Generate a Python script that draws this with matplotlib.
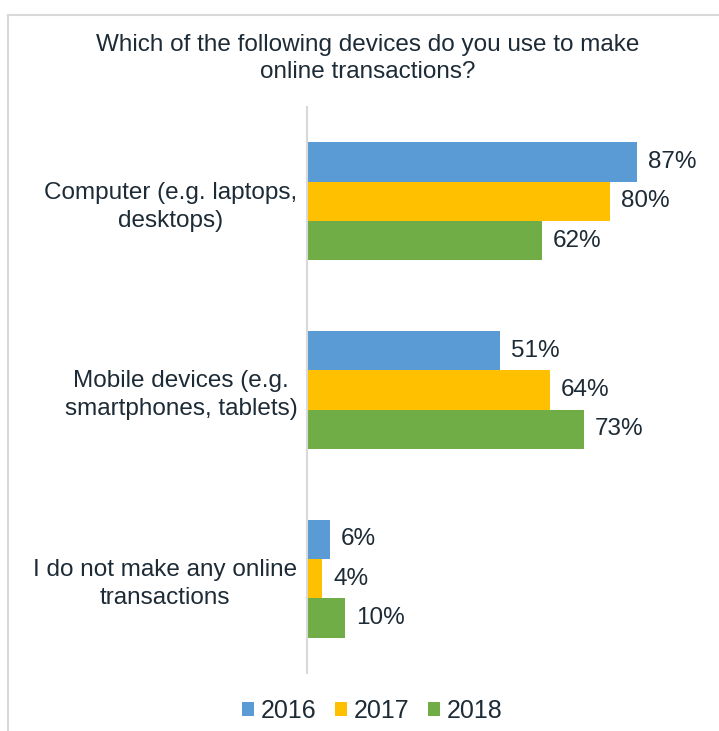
import numpy as np
import matplotlib.pyplot as plt
from matplotlib.lines import Line2D

plt.rcParams['font.family'] = ['Liberation Sans', 'DejaVu Sans']

categories = ['Computer (e.g. laptops,\ndesktops)',
              'Mobile devices (e.g.\nsmartphones, tablets)',
              'I do not make any online\ntransactions']
years = ['2016', '2017', '2018']
vals_2016 = [87, 51, 6]
vals_2017 = [80, 64, 4]
vals_2018 = [62, 73, 10]
colors = ['#5b9bd5', '#ffc000', '#70ad47']
txt = '#1d2b36'
fs = 17.5

fig = plt.figure(figsize=(7.19, 7.31), dpi=100)
ax = fig.add_axes([307/719, 1 - 673/731, 379/719, 566/731])

h = 0.208
y = np.arange(len(categories))
series = [vals_2016, vals_2017, vals_2018]
for i, (vals, c, yr) in enumerate(zip(series, colors, years)):
    pos = y + (i - 1) * h
    bars = ax.barh(pos, vals, height=h, color=c, label=yr)
    for b, v in zip(bars, vals):
        ax.annotate(f'{v}%', (v, b.get_y() + h / 2), xytext=(8, 0),
                    textcoords='offset points', ha='left', va='center',
                    fontsize=fs, color=txt)

ax.set_xlim(0, 100)
ax.set_ylim(2.5, -0.5)
ax.set_xticks([])
ax.set_yticks(y)
ax.set_yticklabels(categories, fontsize=fs, color=txt, linespacing=1.35)
for t in ax.get_yticklabels():
    t.set_multialignment('center')
ax.tick_params(axis='y', length=0, pad=7)
for s in ['top', 'right', 'bottom']:
    ax.spines[s].set_visible(False)
ax.spines['left'].set_color('#d9d9d9')
ax.spines['left'].set_linewidth(1.5)

fig.text(368/719, 1 - 58.5/731,
         'Which of the following devices do you use to make\nonline transactions?',
         ha='center', va='center', fontsize=fs, color=txt, linespacing=1.3)

fig.legend(loc='center', bbox_to_anchor=(372/719, 1 - 711/731), ncol=3,
           frameon=False, fontsize=18, labelcolor=txt, handlelength=0.5,
           handleheight=0.5, handletextpad=0.25, columnspacing=0.75)

# outer frame (only top and left edges visible)
fig.add_artist(Line2D([8/719, 1], [1 - 15/731, 1 - 15/731], color='#d9d9d9', lw=1.5))
fig.add_artist(Line2D([8/719, 8/719], [0, 1 - 15/731], color='#d9d9d9', lw=1.5))

fig.savefig('out.png', dpi=100, facecolor='white')
